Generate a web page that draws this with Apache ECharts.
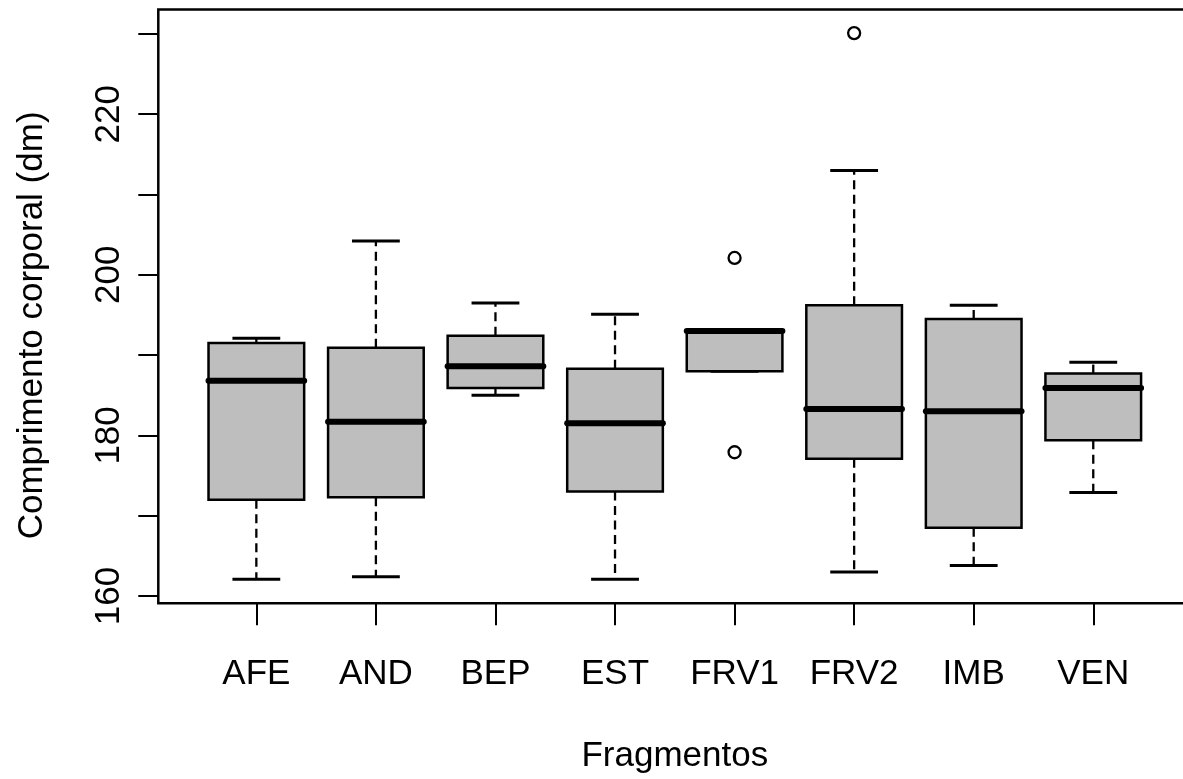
<!DOCTYPE html>
<html>
<head>
<meta charset="utf-8">
<script src="https://cdn.jsdelivr.net/npm/echarts@6/dist/echarts.min.js"></script>
<style>
html,body{margin:0;padding:0;background:#fff;}
#chart{width:1183px;height:779px;}
</style>
</head>
<body>
<div id="chart"></div>
<script>
// ---- data ----
const categories   = ['AFE', 'AND', 'BEP', 'EST', 'FRV1', 'FRV2', 'IMB', 'VEN'];
const lowerWhisker = [162.1, 162.4, 185.0, 162.1, 188.0, 163.0, 163.8, 172.9];
const q1           = [172.0, 172.3, 185.9, 173.0, 188.0, 177.1, 168.5, 179.4];
const median       = [186.8, 181.7, 188.6, 181.5, 193.0, 183.3, 183.0, 185.9];
const q3           = [191.5, 190.9, 192.4, 188.3, 193.0, 196.2, 194.5, 187.7];
const upperWhisker = [192.1, 204.2, 196.5, 195.1, 193.0, 213.0, 196.2, 189.1];
const outlierCategory = ['FRV1', 'FRV1', 'FRV2'];
const outlierValue    = [202.1, 177.9, 230.1];
const yTickValues  = [160, 170, 180, 190, 200, 210, 220, 230];
const yLabelValues = [160, 180, 200, 220];
const xTitle = 'Fragmentos';
const yTitle = 'Comprimento corporal (dm)';

// ---- build series data (x position = category number 1..n) ----
const boxData = categories.map((c, i) => [i + 1, lowerWhisker[i], q1[i], median[i], q3[i], upperWhisker[i]]);
const outlierData = outlierCategory.map((c, i) => [categories.indexOf(c) + 1, outlierValue[i]]);
const xPositions = categories.map((c, i) => i + 1);

const FONT = '"Liberation Sans", Arial, Helvetica, sans-serif';
const FS = 35;

const chart = echarts.init(document.getElementById('chart'), null, {renderer: 'canvas'});
chart.setOption({
  animation: false,
  backgroundColor: '#fff',
  grid: {
    left: 158.3, top: 9.5, width: 1033, height: 593.8,
    containLabel: false, outerBoundsMode: 'none',
    show: true, borderColor: '#000', borderWidth: 2.5, backgroundColor: 'transparent'
  },
  xAxis: {
    type: 'value',
    min: 0.18, max: 8.82,
    splitLine: {show: false},
    axisLine: {show: false},
    axisTick: {show: true, inside: false, length: 22, customValues: xPositions,
               lineStyle: {color: '#000', width: 2}},
    axisLabel: {show: true, customValues: xPositions, margin: 54,
                formatter: v => categories[Math.round(v) - 1] || '',
                color: '#000', fontFamily: FONT, fontSize: FS},
    name: xTitle, nameLocation: 'middle', nameGap: 136,
    nameTextStyle: {color: '#000', fontFamily: FONT, fontSize: FS}
  },
  yAxis: {
    type: 'value',
    min: 159.09, max: 233.04,
    splitLine: {show: false},
    axisLine: {show: false},
    axisTick: {show: true, inside: false, length: 20, customValues: yTickValues,
               lineStyle: {color: '#000', width: 2}},
    axisLabel: {show: true, customValues: yLabelValues, rotate: 90, margin: 31,
                color: '#000', fontFamily: FONT, fontSize: FS},
    name: yTitle, nameLocation: 'middle', nameRotate: 90, nameGap: 108,
    nameTextStyle: {color: '#000', fontFamily: FONT, fontSize: FS, padding: [0, 38, 0, 0]}
  },
  series: [
    {
      type: 'custom',
      name: 'boxes',
      data: boxData,
      encode: {x: 0, y: [1, 2, 3, 4, 5]},
      renderItem: function (params, api) {
        const x = api.value(0);
        const pLo = api.coord([x, api.value(1)]);
        const pQ1 = api.coord([x, api.value(2)]);
        const pMed = api.coord([x, api.value(3)]);
        const pQ3 = api.coord([x, api.value(4)]);
        const pHi = api.coord([x, api.value(5)]);
        const half = api.size([0.8, 0])[0] / 2;
        const st = half / 2;
        const cx = pMed[0];
        const dashStyle = {stroke: '#000', lineWidth: 2.3, lineDash: [9, 5.5], fill: null};
        const solid = {stroke: '#000', lineWidth: 3, fill: null};
        return {
          type: 'group',
          children: [
            {type: 'line', shape: {x1: cx, y1: pQ3[1], x2: cx, y2: pHi[1]}, style: dashStyle},
            {type: 'line', shape: {x1: cx, y1: pQ1[1], x2: cx, y2: pLo[1]}, style: dashStyle},
            {type: 'line', shape: {x1: cx - st, y1: pHi[1], x2: cx + st, y2: pHi[1]}, style: solid},
            {type: 'line', shape: {x1: cx - st, y1: pLo[1], x2: cx + st, y2: pLo[1]}, style: solid},
            {type: 'rect', shape: {x: cx - half, y: pQ3[1], width: 2 * half, height: pQ1[1] - pQ3[1]},
             style: {fill: '#BEBEBE', stroke: '#000', lineWidth: 2.5}},
            {type: 'line', shape: {x1: cx - half, y1: pMed[1], x2: cx + half, y2: pMed[1]},
             style: {stroke: '#000', lineWidth: 6, lineCap: 'round', fill: null}}
          ]
        };
      },
      z: 2
    },
    {
      type: 'scatter',
      name: 'outliers',
      data: outlierData,
      symbol: 'circle',
      symbolSize: 12,
      itemStyle: {color: 'rgba(0,0,0,0)', borderColor: '#000', borderWidth: 2.3, opacity: 1},
      emphasis: {disabled: true},
      z: 3
    }
  ]
});
</script>
</body>
</html>
